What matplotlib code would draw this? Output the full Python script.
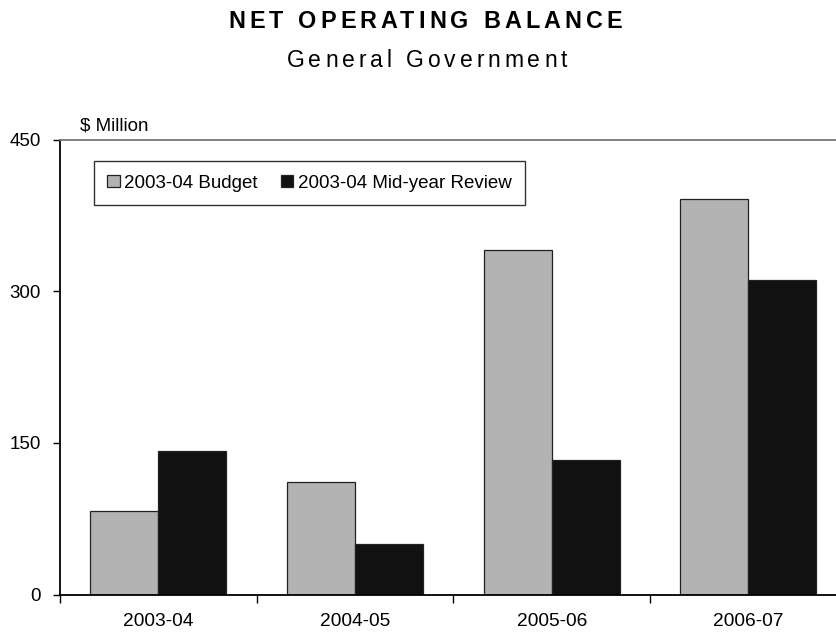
import numpy as np
import matplotlib
matplotlib.use("Agg")
import matplotlib.pyplot as plt
from matplotlib.ticker import FixedLocator, NullFormatter

plt.rcParams['font.family'] = ['Liberation Sans', 'DejaVu Sans']

# Net operating balance, $ million
years = ['2003-04', '2004-05', '2005-06', '2006-07']
budget = [83, 111, 341, 391]
midyear = [142, 50, 133, 311]
series_names = ['2003-04 Budget', '2003-04 Mid-year Review']

fig = plt.figure(figsize=(8.37, 6.33), dpi=100)
ax = fig.add_axes([0.0717, 0.0608, 0.9399, 0.7185])


def spaced_text(fig, x, y, s, spacing, **kw):
    # draw a string one letter at a time with extra tracking (px), centred on x
    r = fig.canvas.get_renderer()
    def width(t):
        tt = fig.text(0, 0, t, **kw)
        w = tt.get_window_extent(r).width
        tt.remove()
        return w
    offs = []
    for i, ch in enumerate(s):
        if ch == ' ':
            continue
        offs.append((width(s[:i + 1]) - width(ch) + i * spacing, ch))
    total = width(s) + (len(s) - 1) * spacing
    x0 = x * fig.bbox.width - total / 2
    for off, ch in offs:
        fig.text((x0 + off) / fig.bbox.width, y, ch, ha='left', va='baseline', **kw)


x = np.arange(len(years))
w = 0.346
ax.bar(x - w / 2, budget, w, color='#b3b3b3', edgecolor='#222222', linewidth=0.9,
       label=series_names[0])
ax.bar(x + w / 2, midyear, w, color='#111111', edgecolor='#222222', linewidth=0.9,
       label=series_names[1])

ax.set_xlim(-0.5, len(years) - 0.5)
ax.set_ylim(0, 450)
ax.set_yticks([0, 150, 300, 450])
ax.tick_params(axis='y', direction='out', length=5, width=1, pad=9, labelsize=13.5)

# ticks between categories, labels at the centres
ax.xaxis.set_major_locator(FixedLocator(np.arange(len(years) + 1) - 0.5))
ax.xaxis.set_major_formatter(NullFormatter())
ax.xaxis.set_minor_locator(FixedLocator(x))
ax.set_xticklabels(years, minor=True)
ax.tick_params(axis='x', which='major', direction='out', length=6, width=1)
ax.tick_params(axis='x', which='minor', length=0, pad=13, labelsize=13.8)

for side in ['left', 'bottom']:
    ax.spines[side].set_linewidth(1.3)
ax.spines['top'].set_color('#777777')
ax.spines['top'].set_linewidth(1.3)
ax.spines['right'].set_visible(False)

fig.text(80 / 837, 1 - 131 / 633, '$ Million', fontsize=13.5, ha='left', va='baseline')

leg = ax.legend(loc='upper left', bbox_to_anchor=(0.0432, 0.953), borderaxespad=0,
                ncol=2, fontsize=13.5, frameon=True, fancybox=False, edgecolor='black',
                handlelength=0.66, handleheight=0.66, handletextpad=0.23,
                columnspacing=1.25, borderpad=0.72)
leg.get_frame().set_linewidth(1.0)

spaced_text(fig, 0.508, 1 - 28.3 / 633, 'NET OPERATING BALANCE', 4.1,
            fontsize=16.8, fontweight='bold')
spaced_text(fig, 0.510, 1 - 67.3 / 633, 'General Government', 3.9, fontsize=16.5)

fig.savefig('out.png', dpi=100)
